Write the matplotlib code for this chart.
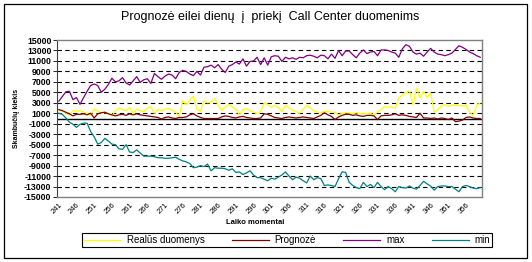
import matplotlib
matplotlib.use("Agg")
import matplotlib.pyplot as plt
from matplotlib.patches import Rectangle
import numpy as np

plt.rcParams['font.family'] = ['Liberation Sans', 'DejaVu Sans']

title = "Prognozė eilei dienų  į  priekį  Call Center duomenims"
x_label = "Laiko momentai"
y_label = "Skambučių kiekis"
series_names = ["Realūs duomenys", "Prognozė", "max", "min"]
start_moment = 241

realus = [1600, 1400, 1000, 600, 1500, 1400, 1500, 1200, 1000, 600,
          1800, 1400, 1000, 1200, 900, 500, 1500, 2000, 1700, 1500,
          2100, 1000, 1800, 1500, 1300, 2000, 2200, 1000, 1800, 1400,
          1800, 1900, 1600, 1200, 400, 3400, 2600, 3500, 4300, 1800,
          1400, 3400, 3000, 3100, 3800, 2600, 1500, 2200, 2700, 2200,
          1800, 700, 1700, 1900, 1500, 1200, 900, 1400, 3000, 2600,
          2200, 2500, 2100, 1300, 2500, 2000, 1600, 1300, 1000, 1800,
          2500, 2000, 1500, 1200, 1100, 1400, 1300, 1200, 1200, 700,
          1000, 1100, 1000, 900, 1100, 1000, 900, 1000, 1000, 600,
          1300, 1700, 2300, 2100, 2200, 1900, 3900, 4500, 4800, 5300,
          2600, 5800, 3900, 5200, 4000, 4800, 1200, 1700, 2400, 2600,
          2300, 2600, 2500, 2500, 2400, 2500, 1200, 600, 2500, 3000]

prognoze = [1700, 1500, 1200, 900, 500, 800, 800, 900, 700, 1000,
            100, 900, 1100, 1200, 900, 700, 500, 700, 800, 600,
            900, 700, 900, 700, 600, 500, 400, 300, 200, -100,
            200, 300, 100, 0, 200, 200, 300, 700, 900, 500,
            200, 0, 0, 0, 0, 0, 300, 500, 400, 200,
            100, 300, 400, 200, 100, 0, 0, 100, 900, 800,
            500, 200, 100, 0, 200, 300, 200, 100, 200, 300,
            200, 100, 0, 300, 600, 1100, 700, 400, -200, 300,
            600, 800, 800, 600, 700, 500, 400, 600, 600, 500,
            -200, 500, 600, 600, 700, 900, 600, 700, 600, 400,
            300, 200, 1000, 100, 100, 0, 100, -100, 100, 0,
            -200, 100, -600, -500, -300, 200, 300, 100, 0, 0]

max_vals = [3300, 4200, 5100, 5200, 3600, 4000, 2700, 4000, 5200, 6300,
            6600, 6300, 5000, 5600, 6500, 7700, 7000, 7200, 7800, 6800,
            6400, 7200, 8000, 6900, 7400, 7600, 6700, 8600, 8000, 7500,
            8100, 8500, 8300, 7600, 8800, 9200, 9000, 8500, 8200, 9000,
            8300, 9800, 9900, 10200, 9700, 10300, 9400, 8800, 10000, 10300,
            10800, 10400, 11400, 10000, 10900, 11000, 11700, 10300, 11600, 10200,
            11800, 12000, 11900, 10900, 11700, 11400, 11600, 11300, 11700, 11600,
            12000, 12100, 11900, 11600, 12100, 12000, 11400, 12300, 11500, 13000,
            12000, 12900, 12900, 12200, 11600, 12500, 13100, 12400, 12700, 12800,
            12000, 13100, 13100, 13000, 12700, 12500, 11700, 13300, 14100, 13800,
            12700, 12300, 12500, 11900, 12700, 13400, 12700, 12300, 12200, 12000,
            12200, 12500, 13200, 13900, 13600, 13200, 12700, 12400, 12000, 11700]

min_vals = [1000, 800, 100, -700, -1100, -1700, -1100, -900, -900, -2500,
            -3500, -4900, -4600, -3800, -4300, -4900, -5000, -5800, -5900, -5000,
            -6400, -6500, -6000, -6600, -7200, -7200, -7200, -7300, -7500, -7500,
            -7600, -7600, -7500, -7400, -7800, -8100, -8300, -8600, -9400, -9300,
            -9000, -9200, -8700, -10000, -9400, -9500, -9500, -9600, -9900, -9600,
            -10300, -10200, -10700, -10400, -10000, -10800, -11300, -11300, -11600, -11900,
            -11400, -11600, -11200, -10800, -10200, -11000, -11700, -11200, -11400, -11900,
            -12300, -11000, -11700, -11300, -11500, -12800, -12700, -12800, -13000, -11500,
            -10200, -10300, -12200, -12800, -13200, -13400, -12200, -13000, -12600, -13200,
            -12200, -13000, -13600, -13000, -13400, -14000, -13000, -13200, -13300, -12900,
            -13300, -13500, -12800, -12000, -12500, -12900, -13700, -13000, -12900, -12900,
            -13000, -13000, -13500, -14000, -13000, -12800, -13000, -13300, -13400, -13200]

colors = ["#FFFF00", "#800000", "#800080", "#008080"]

W, H = 532, 262
fig = plt.figure(figsize=(W / 100, H / 100), dpi=100)
fig.patch.set_facecolor("white")

ax = fig.add_axes([57 / W, 1 - 197 / H, (482 - 57) / W, (197 - 40) / H])

n = len(realus)
xs = np.arange(start_moment, start_moment + n)
for vals, c, name in zip([realus, prognoze, max_vals, min_vals], colors, series_names):
    ax.plot(xs, vals, color=c, lw=0.9, label=name, zorder=3)

ax.set_xlim(start_moment - 0.5, start_moment + n - 0.5)
ax.set_ylim(-15000, 15000)
yt = np.arange(-15000, 15001, 2000)
ax.set_yticks(yt)
ax.set_yticklabels([str(v) for v in yt], fontsize=6.3, fontweight='bold')
for v in yt:
    if -15000 < v < 15000:
        ax.axhline(v, color='black', lw=0.8, ls=(0, (4, 3)), zorder=1)
ax.axhline(0, color='black', lw=1.0, zorder=2)

xt = np.arange(start_moment, start_moment + n, 5)
ax.set_xticks(xt)
ax.set_xticklabels([str(v) for v in xt], fontsize=5.5, rotation=45, ha='right',
                   rotation_mode='anchor')
ax.tick_params(axis='x', length=0, pad=3)
ax.tick_params(axis='y', length=3, width=0.6, pad=1)

for s in ['top', 'right', 'bottom']:
    ax.spines[s].set_color('#808080')
    ax.spines[s].set_linewidth(1.0)
ax.spines['left'].set_color('#404040')
ax.spines['left'].set_linewidth(0.8)

fig.text(270 / W, 1 - 17 / H, title, ha='center', va='center', fontsize=9)
fig.text(17 / W, 1 - 118 / H, y_label, rotation=90, ha='center', va='center',
         fontsize=5, fontweight='bold')
fig.text(255 / W, 1 - 222 / H, x_label, ha='center', va='center',
         fontsize=5.5, fontweight='bold')

leg = fig.legend(loc='center', ncol=4,
                 bbox_to_anchor=(287 / W, 1 - 240 / H),
                 fontsize=7, frameon=True, fancybox=False, framealpha=1,
                 edgecolor='black', handlelength=3.8, borderpad=0.25,
                 handletextpad=0.6, columnspacing=2.8, borderaxespad=0)
leg.get_frame().set_linewidth(0.8)

fig.add_artist(Rectangle((4 / W, 4 / H), (527 - 4) / W, (258 - 4) / H,
                         transform=fig.transFigure, fill=False,
                         edgecolor='black', lw=0.9))

fig.savefig("out.png", dpi=100, facecolor='white')
